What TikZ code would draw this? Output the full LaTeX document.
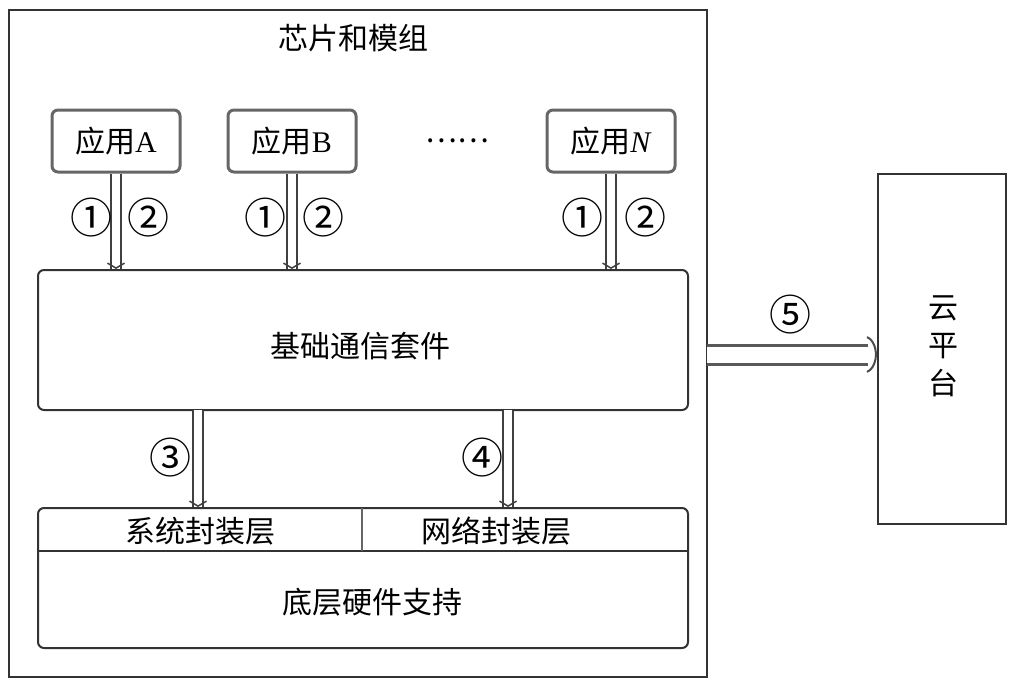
\documentclass[tikz,border=0pt]{standalone}
\usepackage{fontspec}
\setmainfont{Liberation Serif}
\newfontfamily\cjk{Noto Sans CJK SC}
\usetikzlibrary{arrows.meta,calc}
\begin{document}
\begin{tikzpicture}[x=1pt,y=-1pt,
  txt/.style={font=\fontsize{30}{32}\selectfont\cjk, inner sep=0pt},
  num/.style={font=\fontsize{42}{42}\selectfont\cjk, inner sep=0pt},
  outerbox/.style={draw=black!80, line width=2.2pt, inner sep=0pt},
  appbox/.style={draw=black!60, line width=3pt, rounded corners=6pt, fill=white,
     minimum width=128pt, minimum height=62pt, inner sep=0pt, font=\fontsize{30}{32}\selectfont},
  layerbox/.style={draw=black!80, line width=2pt, rounded corners=6pt,
     minimum width=650pt, minimum height=140pt, inner sep=0pt},
  dbl/.style={draw=black!75, line width=2pt, double=white, double distance=8pt},
  dblbig/.style={draw=black!65, line width=3pt, double=white, double distance=16pt},
  headsmall/.style={draw=black!75, line width=1.5pt, -{Straight Barb[length=5pt, width=17pt]}},
  headbig/.style={draw=black!70, line width=2pt, -{Arc Barb[arc=150, length=13pt, width=38pt]}},
  divline/.style={draw=black!80, line width=2pt}
]
\useasboundingbox (0,0) rectangle (1030,685);

% outer chip box
\node[outerbox, minimum width=698pt, minimum height=667pt] (chip) at (358,343.5) {};
\node[txt] (title) at (353,38) {芯片和模组};

% cloud
\node[outerbox, minimum width=128pt, minimum height=350pt] (cloud) at (942,349) {};
\node[txt, align=center] (cloudtxt) at (943,346) {云\\[6pt]平\\[6pt]台};

% apps
\node[appbox] (appA) at (116,141) {{\cjk 应用}A};
\node[appbox] (appB) at (292,141) {{\cjk 应用}B};
\node[txt] (dots) at (457,141) {……};
\node[appbox] (appN) at (611,141) {{\cjk 应用}\textit{N}};

% main communication kit
\node[layerbox] (main) at (363,340) {};
\node[txt] (maintxt) at (360,346) {基础通信套件};

% bottom layer
\node[layerbox] (base) at (363,578) {};
\coordinate (stripL) at (38,551);
\coordinate (stripR) at (688,551);
\coordinate (divTop) at (362,508);
\coordinate (divBot) at (362,551);
\draw[divline] (stripL) -- (stripR);
\draw[draw=black!60, line width=2pt] (divTop) -- (divBot);
\node[txt] (sys) at (200,531) {系统封装层};
\node[txt] (net) at (496,531) {网络封装层};
\node[txt] (hw) at (372,602) {底层硬件支持};

% arrows from apps
\foreach \n in {appA,appB,appN}{
  \draw[dbl] (\n.south) -- (\n.south |- main.north);
  \draw[headsmall] ($(\n.south |- main.north)+(0,-1)$) -- (\n.south |- main.north);
}

\node[num] (a1) at (91,218) {①};
\node[num] (a2) at (148,218) {②};
\node[num] (b1) at (265,218) {①};
\node[num] (b2) at (323,218) {②};
\node[num] (n1) at (582,218) {①};
\node[num] (n2) at (645,218) {②};

% arrows down to encapsulation layers
\coordinate (s3) at (198,410);
\coordinate (s4) at (508,410);
\foreach \s in {s3,s4}{
  \draw[dbl] (\s) -- (\s |- base.north);
  \draw[headsmall] ($(\s |- base.north)+(0,-1)$) -- (\s |- base.north);
}
\node[num] (c3) at (170,458) {③};
\node[num] (c4) at (482,458) {④};

% arrow to cloud
\coordinate (a5) at (707,354.5);
\draw[dblbig] (a5) -- ($(a5 -| cloud.west)+(-9,0)$);
\draw[headbig] ($(a5 -| cloud.west)+(-1,0)$) -- (a5 -| cloud.west);
\node[num] (c5) at (790,315) {⑤};
\end{tikzpicture}
\end{document}
